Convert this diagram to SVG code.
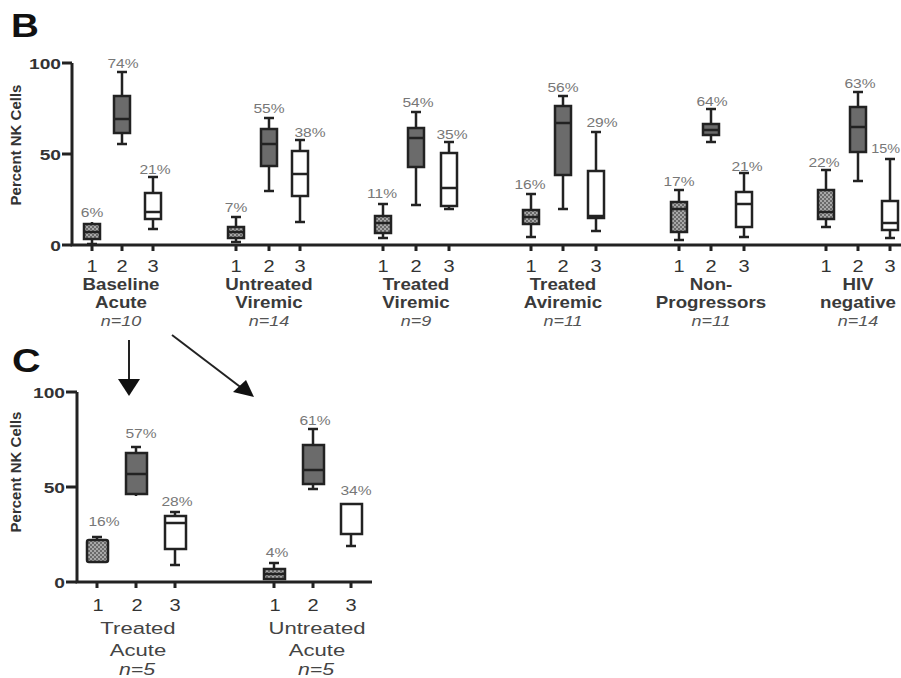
<svg xmlns="http://www.w3.org/2000/svg" width="901" height="678" viewBox="0 0 901 678">
<defs>
<pattern id="hatch" width="4" height="4" patternUnits="userSpaceOnUse">
<rect width="4" height="4" fill="#6a6a6a"/>
<rect x="0" y="0" width="2" height="2" fill="#a8a8a8"/>
<rect x="2" y="2" width="2" height="2" fill="#a8a8a8"/>
</pattern>
</defs>
<style>
.ax{stroke:#222;stroke-width:3;fill:none}
.wk{stroke:#222;stroke-width:2.5;fill:none}
.bx{stroke:#222;stroke-width:2.5}
.h{fill:url(#hatch)}
.d{fill:#6b6b6b}
.w{fill:#fff}
text{font-family:"Liberation Sans",Arial,sans-serif}
.pct{font-size:12px;fill:#777;text-anchor:middle}
.tk{font-size:16px;fill:#333;text-anchor:middle}
.yt{font-size:15px;font-weight:bold;fill:#333;text-anchor:end}
.yl{font-size:15px;font-weight:bold;fill:#333;text-anchor:middle}
.gl{font-size:16px;font-weight:bold;fill:#3a3a3a;text-anchor:middle}
.gn{font-size:15px;font-style:italic;fill:#555;text-anchor:middle}
.cl{font-size:17px;fill:#444;text-anchor:middle}
.cn{font-size:17px;font-style:italic;fill:#444;text-anchor:middle}
.pl{font-size:33px;font-weight:bold;fill:#111}
</style>
<rect width="901" height="678" fill="#fff"/>

<g id="panelB-axes">
<text class="pl" transform="translate(11,37) scale(1.17,1)">B</text>
<path class="ax" d="M72,63 V245 H901"/>
<path class="ax" d="M62,63 H72 M62,154 H72 M62,245 H72"/>
<text class="yt" transform="translate(61,69) scale(1.28,1)">100</text>
<text class="yt" transform="translate(61,160) scale(1.28,1)">50</text>
<text class="yt" transform="translate(61,251) scale(1.28,1)">0</text>
<text class="yl" transform="translate(21,145) rotate(-90)">Percent NK Cells</text>
<path class="ax" d="M92,245 V251 M122,245 V251 M153,245 V251 M236,245 V251 M269,245 V251 M300,245 V251 M383,245 V251 M416,245 V251 M449,245 V251 M531,245 V251 M563,245 V251 M596,245 V251 M679,245 V251 M711,245 V251 M744,245 V251 M826,245 V251 M858,245 V251 M890,245 V251"/>
</g>

<g id="B-g1">
<path class="wk" d="M92,222 V244 M87,244 H97"/>
<rect class="bx h" x="84" y="224" width="16" height="15"/><path class="wk" d="M84,232 H100"/>
<text class="pct" transform="translate(92,217) scale(1.3,1)">6%</text>
<path class="wk" d="M122,72 V144 M117,72 H127 M117,144 H127"/>
<rect class="bx d" x="114" y="96" width="16" height="37"/><path class="wk" d="M114,119 H130"/>
<text class="pct" transform="translate(123,68) scale(1.3,1)">74%</text>
<path class="wk" d="M153,177 V229 M148,177 H158 M148,229 H158"/>
<rect class="bx w" x="145" y="193" width="16" height="26"/><path class="wk" d="M145,212 H161"/>
<text class="pct" transform="translate(155,174) scale(1.3,1)">21%</text>
<text class="tk" transform="translate(92,272) scale(1.25,1)">1</text><text class="tk" transform="translate(122,272) scale(1.25,1)">2</text><text class="tk" transform="translate(153,272) scale(1.25,1)">3</text>
<text class="gl" transform="translate(121,290) scale(1.17,1)">Baseline</text><text class="gl" transform="translate(121,308) scale(1.17,1)">Acute</text><text class="gn" transform="translate(121,326) scale(1.2,1)">n=10</text>
</g>

<g id="B-g2">
<path class="wk" d="M236,217 V242 M231,217 H241 M231,242 H241"/>
<rect class="bx h" x="228" y="227" width="16" height="11"/><path class="wk" d="M228,232 H244"/>
<text class="pct" transform="translate(236,212) scale(1.3,1)">7%</text>
<path class="wk" d="M269,118 V191 M264,118 H274 M264,191 H274"/>
<rect class="bx d" x="261" y="129" width="16" height="37"/><path class="wk" d="M261,144 H277"/>
<text class="pct" transform="translate(269,113) scale(1.3,1)">55%</text>
<path class="wk" d="M300,140 V222 M295,140 H305 M295,222 H305"/>
<rect class="bx w" x="292" y="151" width="16" height="45"/><path class="wk" d="M292,174 H308"/>
<text class="pct" transform="translate(310,137) scale(1.3,1)">38%</text>
<text class="tk" transform="translate(236,272) scale(1.25,1)">1</text><text class="tk" transform="translate(269,272) scale(1.25,1)">2</text><text class="tk" transform="translate(300,272) scale(1.25,1)">3</text>
<text class="gl" transform="translate(269,290) scale(1.17,1)">Untreated</text><text class="gl" transform="translate(269,308) scale(1.17,1)">Viremic</text><text class="gn" transform="translate(269,326) scale(1.2,1)">n=14</text>
</g>

<g id="B-g3">
<path class="wk" d="M383,204 V238 M378,204 H388 M378,238 H388"/>
<rect class="bx h" x="375" y="216" width="16" height="17"/><path class="wk" d="M375,223 H391"/>
<text class="pct" transform="translate(382,198) scale(1.3,1)">11%</text>
<path class="wk" d="M416,112 V205 M411,112 H421 M411,205 H421"/>
<rect class="bx d" x="408" y="128" width="16" height="39"/><path class="wk" d="M408,138 H424"/>
<text class="pct" transform="translate(418,107) scale(1.3,1)">54%</text>
<path class="wk" d="M449,142 V209 M444,142 H454 M444,209 H454"/>
<rect class="bx w" x="441" y="153" width="16" height="53"/><path class="wk" d="M441,188 H457"/>
<text class="pct" transform="translate(452,139) scale(1.3,1)">35%</text>
<text class="tk" transform="translate(383,272) scale(1.25,1)">1</text><text class="tk" transform="translate(416,272) scale(1.25,1)">2</text><text class="tk" transform="translate(449,272) scale(1.25,1)">3</text>
<text class="gl" transform="translate(416,290) scale(1.17,1)">Treated</text><text class="gl" transform="translate(416,308) scale(1.17,1)">Viremic</text><text class="gn" transform="translate(416,326) scale(1.2,1)">n=9</text>
</g>

<g id="B-g4">
<path class="wk" d="M531,194 V237 M526,194 H536 M526,237 H536"/>
<rect class="bx h" x="523" y="210" width="16" height="14"/><path class="wk" d="M523,217 H539"/>
<text class="pct" transform="translate(530,189) scale(1.3,1)">16%</text>
<path class="wk" d="M563,96 V209 M558,96 H568 M558,209 H568"/>
<rect class="bx d" x="555" y="106" width="16" height="69"/><path class="wk" d="M555,123 H571"/>
<text class="pct" transform="translate(563,92) scale(1.3,1)">56%</text>
<path class="wk" d="M596,132 V231 M591,132 H601 M591,231 H601"/>
<rect class="bx w" x="588" y="171" width="16" height="47"/><path class="wk" d="M588,216 H604"/>
<text class="pct" transform="translate(602,127) scale(1.3,1)">29%</text>
<text class="tk" transform="translate(531,272) scale(1.25,1)">1</text><text class="tk" transform="translate(563,272) scale(1.25,1)">2</text><text class="tk" transform="translate(596,272) scale(1.25,1)">3</text>
<text class="gl" transform="translate(563,290) scale(1.17,1)">Treated</text><text class="gl" transform="translate(563,308) scale(1.17,1)">Aviremic</text><text class="gn" transform="translate(563,326) scale(1.2,1)">n=11</text>
</g>

<g id="B-g5">
<path class="wk" d="M679,190 V240 M674,190 H684 M674,240 H684"/>
<rect class="bx h" x="671" y="202" width="16" height="30"/><path class="wk" d="M671,209 H687"/>
<text class="pct" transform="translate(679,186) scale(1.3,1)">17%</text>
<path class="wk" d="M711,109 V142 M706,109 H716 M706,142 H716"/>
<rect class="bx d" x="703" y="124" width="16" height="11"/><path class="wk" d="M703,130 H719"/>
<text class="pct" transform="translate(712,106) scale(1.3,1)">64%</text>
<path class="wk" d="M744,173 V237 M739,173 H749 M739,237 H749"/>
<rect class="bx w" x="736" y="192" width="16" height="35"/><path class="wk" d="M736,204 H752"/>
<text class="pct" transform="translate(747,171) scale(1.3,1)">21%</text>
<text class="tk" transform="translate(679,272) scale(1.25,1)">1</text><text class="tk" transform="translate(711,272) scale(1.25,1)">2</text><text class="tk" transform="translate(744,272) scale(1.25,1)">3</text>
<text class="gl" transform="translate(711,290) scale(1.17,1)">Non-</text><text class="gl" transform="translate(711,308) scale(1.17,1)">Progressors</text><text class="gn" transform="translate(711,326) scale(1.2,1)">n=11</text>
</g>

<g id="B-g6">
<path class="wk" d="M826,170 V227 M821,170 H831 M821,227 H831"/>
<rect class="bx h" x="818" y="190" width="16" height="29"/><path class="wk" d="M818,212 H834"/>
<text class="pct" transform="translate(824,167) scale(1.3,1)">22%</text>
<path class="wk" d="M858,92 V181 M853,92 H863 M853,181 H863"/>
<rect class="bx d" x="850" y="107" width="16" height="45"/><path class="wk" d="M850,127 H866"/>
<text class="pct" transform="translate(860,88) scale(1.3,1)">63%</text>
<path class="wk" d="M890,159 V238 M885,159 H895 M885,238 H895"/>
<rect class="bx w" x="882" y="201" width="16" height="29"/><path class="wk" d="M882,223 H898"/>
<text class="pct" style="text-anchor:end" transform="translate(900,153) scale(1.2,1)">15%</text>
<text class="tk" transform="translate(826,272) scale(1.25,1)">1</text><text class="tk" transform="translate(858,272) scale(1.25,1)">2</text><text class="tk" transform="translate(890,272) scale(1.25,1)">3</text>
<text class="gl" transform="translate(858,290) scale(1.17,1)">HIV</text><text class="gl" transform="translate(858,308) scale(1.17,1)">negative</text><text class="gn" transform="translate(858,326) scale(1.2,1)">n=14</text>
</g>

<g id="connectors">
<path d="M129,340 V383" stroke="#222" stroke-width="2" fill="none"/>
<path d="M118,379 L140,379 L129,396 Z" fill="#111"/>
<path d="M172,335 L243,389" stroke="#222" stroke-width="2" fill="none"/>
<path d="M233,392 L246,380 L254,397 Z" fill="#111"/>
</g>

<g id="panelC-axes">
<text class="pl" transform="translate(12,372) scale(1.2,1)">C</text>
<path class="ax" d="M77,392 V582 H372"/>
<path class="ax" d="M66,392 H77 M66,487 H77 M66,582 H77"/>
<text class="yt" transform="translate(65,398) scale(1.28,1)">100</text>
<text class="yt" transform="translate(65,493) scale(1.28,1)">50</text>
<text class="yt" transform="translate(65,588) scale(1.28,1)">0</text>
<text class="yl" transform="translate(21,472) rotate(-90)">Percent NK Cells</text>
<path class="ax" d="M97,582 V588 M136,582 V588 M175,582 V588 M274,582 V588 M313,582 V588 M351,582 V588"/>
</g>

<g id="C-g1">
<path class="wk" d="M97,537 V562 M92,537 H102"/>
<rect class="bx h" x="87" y="540" width="21" height="22" rx="2"/>
<text class="pct" transform="translate(104,526) scale(1.3,1)">16%</text>
<path class="wk" d="M136,447 V496 M131,447 H141"/>
<rect class="bx d" x="126" y="453" width="21" height="41"/><path class="wk" d="M126,474 H147"/>
<text class="pct" transform="translate(141,438) scale(1.3,1)">57%</text>
<path class="wk" d="M175,512 V565 M170,512 H180 M170,565 H180"/>
<rect class="bx w" x="165" y="516" width="21" height="33"/><path class="wk" d="M165,523 H186"/>
<text class="pct" transform="translate(177,506) scale(1.3,1)">28%</text>
<text class="tk" transform="translate(98,611) scale(1.25,1)">1</text><text class="tk" transform="translate(137,611) scale(1.25,1)">2</text><text class="tk" transform="translate(175,611) scale(1.25,1)">3</text>
<text class="cl" transform="translate(138,634) scale(1.3,1)">Treated</text><text class="cl" transform="translate(138,656) scale(1.3,1)">Acute</text><text class="cn" transform="translate(137,675) scale(1.25,1)">n=5</text>
</g>

<g id="C-g2">
<path class="wk" d="M274,563 V580 M269,563 H279"/>
<rect class="bx h" x="264" y="569" width="21" height="10"/><path class="wk" d="M264,574 H285"/>
<text class="pct" transform="translate(277,557) scale(1.3,1)">4%</text>
<path class="wk" d="M313,429 V489 M308,429 H318 M308,489 H318"/>
<rect class="bx d" x="303" y="445" width="21" height="39"/><path class="wk" d="M303,470 H324"/>
<text class="pct" transform="translate(315,425) scale(1.3,1)">61%</text>
<path class="wk" d="M351,503 V546 M346,546 H356"/>
<rect class="bx w" x="341" y="504" width="21" height="30"/>
<text class="pct" transform="translate(356,495) scale(1.3,1)">34%</text>
<text class="tk" transform="translate(275,611) scale(1.25,1)">1</text><text class="tk" transform="translate(313,611) scale(1.25,1)">2</text><text class="tk" transform="translate(351,611) scale(1.25,1)">3</text>
<text class="cl" transform="translate(317,634) scale(1.3,1)">Untreated</text><text class="cl" transform="translate(317,656) scale(1.3,1)">Acute</text><text class="cn" transform="translate(316,675) scale(1.25,1)">n=5</text>
</g>
</svg>
